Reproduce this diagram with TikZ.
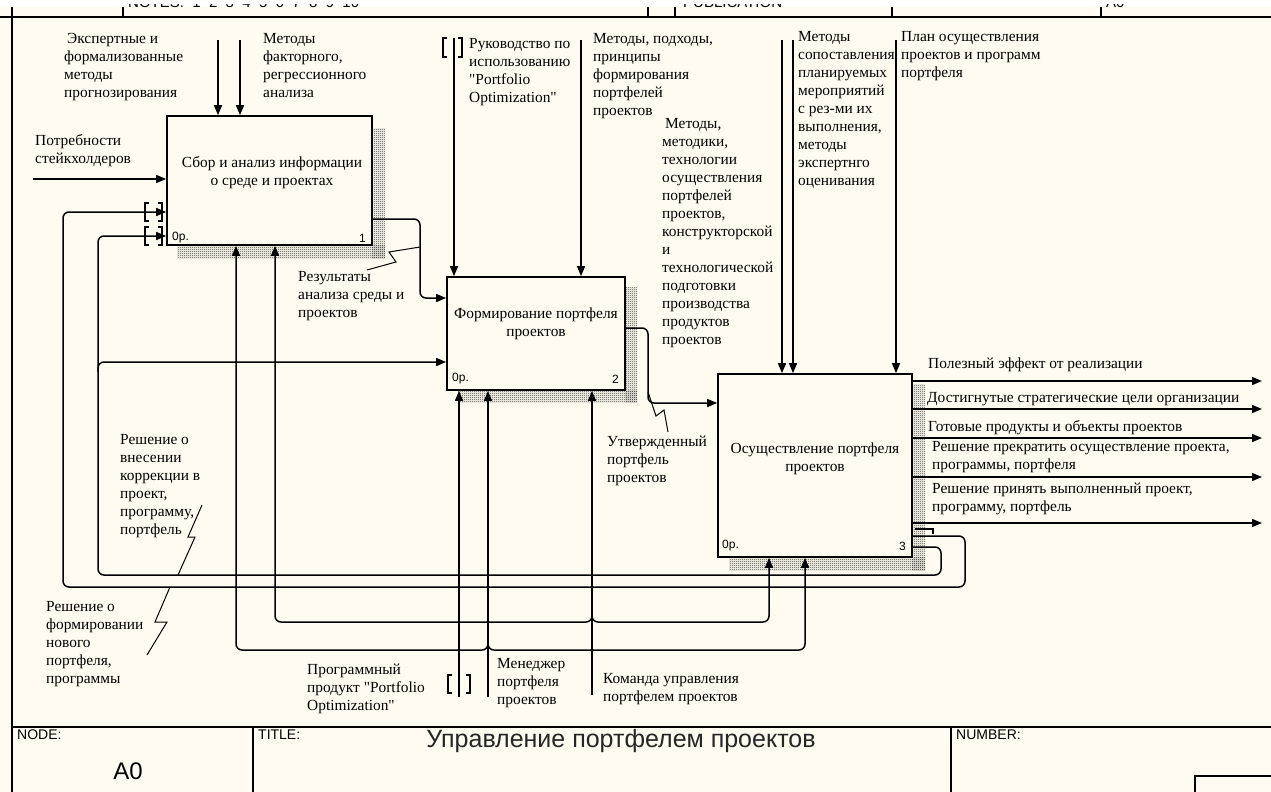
\documentclass[tikz,border=0pt]{standalone}
\usepackage{fontspec}
\setmainfont{Liberation Serif}
\newfontfamily\arialf{Liberation Sans}
\newfontfamily\rawserif{Liberation Serif}[Ligatures=TeXOff]
\usetikzlibrary{arrows.meta,patterns}
\definecolor{paper}{RGB}{255,251,240}
\newcommand{\sq}{{\rawserif\symbol{34}}}
\pgfdeclarepatternformonly{finecheck}{\pgfpointorigin}{\pgfpoint{2pt}{2pt}}{\pgfpoint{2pt}{2pt}}{%
  \pgfpathrectangle{\pgfpoint{0pt}{0pt}}{\pgfpoint{1pt}{1pt}}%
  \pgfpathrectangle{\pgfpoint{1pt}{1pt}}{\pgfpoint{1pt}{1pt}}%
  \pgfusepath{fill}}
\tikzset{
  ln/.style={line width=1.5pt},
  arr/.style={line width=1.5pt, -{Triangle[length=10pt,width=8pt]}},
  box/.style={draw, line width=1.7pt, fill=paper, inner sep=0},
  lab/.style={anchor=north west, inner sep=0, align=left, font=\fontsize{15.4}{18}\selectfont, execute at begin node=\strut},
  boxtxt/.style={align=center, inner sep=0, font=\fontsize{15.4}{18}\selectfont},
  shade/.style={pattern=finecheck, pattern color=black!75},
  num/.style={font=\arialf\fontsize{12}{12}\selectfont, inner sep=0},
  zig/.style={line width=1pt},
  brk/.style={line width=1.1pt},
  frm/.style={font=\arialf\fontsize{14}{14}\selectfont, inner sep=0, anchor=west},
}
\begin{document}
\begin{tikzpicture}[x=1pt,y=-1pt]
\useasboundingbox (0,0) rectangle (1271,792);
\fill[white] (0,0) rectangle (1271,7);
\fill[paper] (0,7) rectangle (1271,792);
% top strip (cut off)
\begin{scope}
\clip (0,5) rectangle (1271,9);
\node[anchor=base west, inner sep=0, font=\arialf\fontsize{15}{15}\selectfont] (notes) at (128,8) {NOTES:\ \ 1\ \ 2\ \ 3\ \ 4\ \ 5\ \ 6\ \ 7\ \ 8\ \ 9\ \ 10};
\node[anchor=base west, inner sep=0, font=\arialf\fontsize{15}{15}\selectfont] (publ) at (683,8) {PUBLICATION};
\node[anchor=base west, inner sep=0, font=\arialf\fontsize{15}{15}\selectfont] (topr) at (1106,8) {A0};
\end{scope}
% frame
\draw[ln] (0,17) -- (1271,17);
\draw[ln] (12,7) -- (12,792);
\foreach \xx in {123,648,675,892,1101} \draw[ln] (\xx,7) -- (\xx,17);
\draw[ln] (12,727) -- (1271,727);
\draw[ln] (253,727) -- (253,792);
\draw[ln] (951,727) -- (951,792);
\draw[ln] (1195,792) -- (1195,776) -- (1271,776);
\node[frm] (nodel) at (17,735) {NODE:};
\node[frm] (titl) at (258,735) {TITLE:};
\node[frm] (numl) at (956,735) {NUMBER:};
\node[inner sep=0, font=\arialf\fontsize{24}{24}\selectfont] (a0) at (128,771) {A0};
\node[inner sep=0, font=\arialf\fontsize{25}{25}\selectfont, text=black!85] (title) at (621,741) {Управление портфелем проектов};

% shadows
\fill[shade] (372,128) rectangle (385,258);
\fill[shade] (177,245) rectangle (385,258);
\fill[shade] (625,287) rectangle (637,402);
\fill[shade] (458,390) rectangle (637,402);
\fill[shade] (912,384) rectangle (925,570);
\fill[shade] (729,557) rectangle (925,570);

% boxes
\node[box, minimum width=205, minimum height=129] (b1) at (269.5,180.5) {};
\node[box, minimum width=178, minimum height=113] (b2) at (536,333.5) {};
\node[box, minimum width=194, minimum height=183] (b3) at (815,465.5) {};
\node[boxtxt] (t1) at (272,173) {Сбор и анализ информации\\о среде и проектах};
\node[boxtxt] (t2) at (536,324) {Формирование портфеля\\проектов};
\node[boxtxt] (t3) at (815,459) {Осуществление портфеля\\проектов};
\node[num, anchor=west] (n1a) at (172,238) {0р.};
\node[num, anchor=east] (n1b) at (366,238) {1};
\node[num, anchor=west] (n2a) at (452,379) {0р.};
\node[num, anchor=east] (n2b) at (619,379) {2};
\node[num, anchor=west] (n3a) at (722,546) {0р.};
\node[num, anchor=east] (n3b) at (906,546) {3};

% controls
\coordinate (c1a) at (218,40);
\coordinate (c1b) at (240,40);
\coordinate (c2a) at (454,38);
\coordinate (c2b) at (581,40);
\coordinate (c3a) at (782,40);
\coordinate (c3b) at (793,40);
\coordinate (c3c) at (896,40);
\foreach \c/\b in {c1a/b1,c1b/b1,c2a/b2,c2b/b2,c3a/b3,c3b/b3,c3c/b3}
  \draw[arr] (\c) -- (\c |- \b.north);

% input
\coordinate (i1) at (33,179);
\draw[arr] (i1) -- (i1 -| b1.west);

% mechanisms
\coordinate (m2a) at (459,697);
\coordinate (m2b) at (488,697);
\coordinate (m2c) at (592,695);
\foreach \c in {m2a,m2b,m2c} \draw[arr] (\c) -- (\c |- b2.south);
\draw[arr, rounded corners=6] (488,640) -- (488,650) -- (236,650) -- (236,0 |- b1.south);
\draw[arr, rounded corners=6] (488,640) -- (488,650) -- (805,650) -- (805,0 |- b3.south);
\draw[arr, rounded corners=6] (592,612) -- (592,622) -- (275,622) -- (275,0 |- b1.south);
\draw[arr, rounded corners=6] (592,612) -- (592,622) -- (769,622) -- (769,0 |- b3.south);

% outputs between boxes
\draw[arr, rounded corners=6] (b1.east |- 0,219) -- (420,219) -- (420,298) -- (b2.west |- 0,298);
\draw[arr, rounded corners=6] (b2.east |- 0,328) -- (648,328) -- (648,403) -- (b3.west |- 0,403);

% final outputs
\coordinate (o1) at (1262,381);
\coordinate (o2) at (1262,409);
\coordinate (o3) at (1262,438);
\coordinate (o4) at (1262,477);
\coordinate (o5) at (1262,523);
\foreach \o in {o1,o2,o3,o4,o5} \draw[arr] (b3.east |- \o) -- (\o);

% feedback loops
\draw[arr, rounded corners=6] (b3.east |- 0,536) -- (965,536) -- (965,587) -- (63,587) -- (63,212) -- (b1.west |- 0,212);
\draw[arr, rounded corners=6] (b3.east |- 0,547) -- (941,547) -- (941,575) -- (98,575) -- (98,236) -- (b1.west |- 0,236);
\draw[arr, rounded corners=6] (98,372) -- (98,362) -- (b2.west |- 0,362);
\draw[brk] (915,529) -- (933,529) -- (933,534);

% tunnel brackets
\draw[brk] (149,203) -- (145,203) -- (145,221) -- (149,221);
\draw[brk] (158,203) -- (162,203) -- (162,221) -- (158,221);
\draw[brk] (149,227) -- (145,227) -- (145,245) -- (149,245);
\draw[brk] (158,227) -- (162,227) -- (162,245) -- (158,245);
\draw[brk] (447,38) -- (443,38) -- (443,57) -- (447,57);
\draw[brk] (458,38) -- (462,38) -- (462,57) -- (458,57);
\draw[brk] (452,675) -- (448,675) -- (448,693) -- (452,693);
\draw[brk] (466,675) -- (470,675) -- (470,693) -- (466,693);

% squiggles
\draw[zig] (367,270) -- (396,262) -- (389,252) -- (420,247);
\draw[zig] (668,432) -- (664,410) -- (656,416) -- (648,392);
\draw[zig] (202,505) -- (188,537) -- (195,537) -- (178,575);
\draw[zig] (170,587) -- (155,622) -- (167,622) -- (147,655);

% labels
\node[lab] (l1) at (64,33) {\hspace{3pt}Экспертные и\\формализованные\\методы\\прогнозирования};
\node[lab] (l2) at (263,33) {Методы\\факторного,\\регрессионного\\анализа};
\node[lab] (l3) at (35,134) {Потребности\\стейкхолдеров};
\node[lab] (l4) at (469,38) {Руководство по\\использованию\\\sq Portfolio\\Optimization\sq};
\node[lab] (l5) at (593,33) {Методы, подходы,\\принципы\\формирования\\портфелей\\проектов};
\node[lab] (l6) at (662,118) {\hspace{3pt}Методы,\\методики,\\технологии\\осуществления\\портфелей\\проектов,\\конструкторской\\и\\технологической\\подготовки\\производства\\продуктов\\проектов};
\node[lab] (l7) at (798,31) {Методы\\сопоставления\\планируемых\\мероприятий\\с рез-ми их\\выполнения,\\методы\\экспертнго\\оценивания};
\node[lab] (l8) at (901,31) {План осуществления\\проектов и программ\\портфеля};
\node[lab] (l9) at (298,271) {Результаты\\анализа среды и\\проектов};
\node[lab] (l10) at (607,436) {Утвержденный\\портфель\\проектов};
\node[lab] (l11) at (928,356) {Полезный эффект от реализации};
\node[lab] (l12) at (927,390) {Достигнутые стратегические цели организации};
\node[lab] (l13) at (928,419) {Готовые продукты и объекты проектов};
\node[lab] (l14) at (932,441) {Решение прекратить осуществление проекта,\\программы, портфеля};
\node[lab] (l15) at (932,483) {Решение принять выполненный проект,\\программу, портфель};
\node[lab] (l16) at (120,434) {Решение о\\внесении\\коррекции в\\проект,\\программу,\\портфель};
\node[lab] (l17) at (46,601) {Решение о\\формировании\\нового\\портфеля,\\программы};
\node[lab] (l18) at (307,664) {Программный\\продукт \sq Portfolio\\Optimization\sq};
\node[lab] (l19) at (497,658) {Менеджер\\портфеля\\проектов};
\node[lab] (l20) at (603,673) {Команда управления\\портфелем проектов};
\end{tikzpicture}
\end{document}
